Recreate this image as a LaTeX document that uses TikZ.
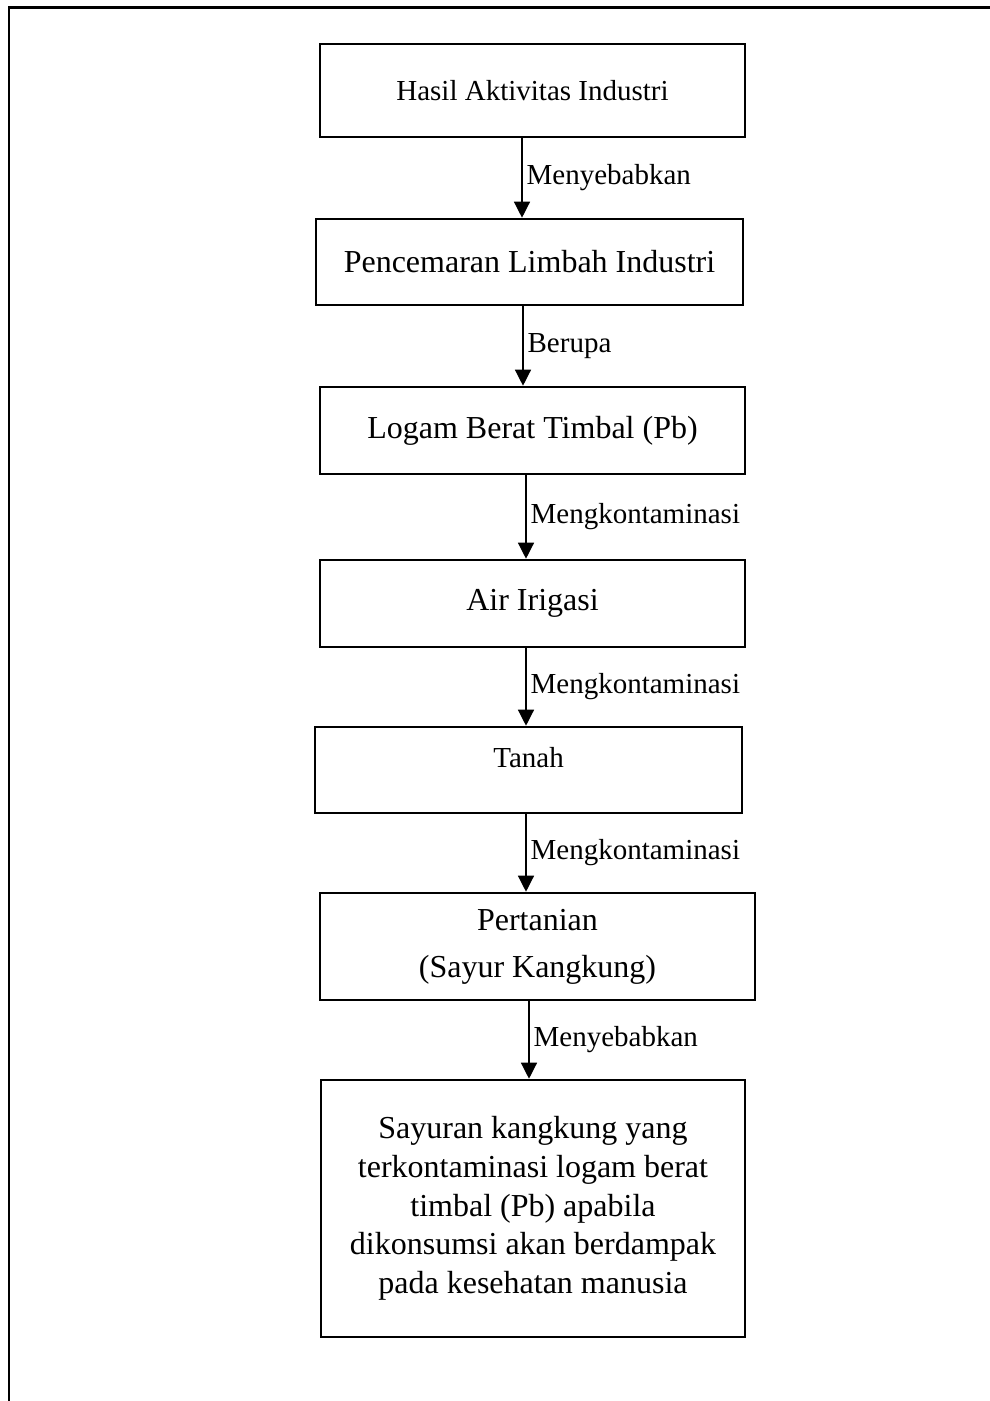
\documentclass[tikz,border=0pt]{standalone}
\usepackage{fontspec}
\setmainfont{Liberation Serif}
\usetikzlibrary{arrows.meta}

\begin{document}
\begin{tikzpicture}[x=1pt, y=-1pt,
  box/.style={draw, line width=2.6pt, inner sep=0pt, align=center,
    font=\fontsize{32}{38.75}\selectfont},
  small/.style={font=\fontsize{29}{35}\selectfont},
  flow/.style={line width=1.3pt, -{Triangle[width=16pt,length=16pt]}},
  verb/.style={right, inner sep=4pt, font=\fontsize{29}{35}\selectfont}]
  \useasboundingbox (0,0) rectangle (990,1401);
  % Frame
  \draw[line width=2.6pt] (990,7.5) -- (9,7.5) -- (9,1401);

  % Boxes
  \node[box, small, minimum width=425pt, minimum height=93pt] (hasil) at (532.5,90.5) {Hasil Aktivitas Industri};
  \node[box, minimum width=427pt, minimum height=86pt] (limbah) at (529.5,262) {Pencemaran Limbah Industri};
  \node[box, minimum width=425pt, minimum height=87pt] (timbal) at (532.5,430.5) {Logam Berat Timbal (Pb)};
  \node[box, minimum width=425pt, minimum height=87pt] (irigasi) at (532.5,603.5) {Air Irigasi};
  \node[box, small, minimum width=427pt, minimum height=86pt, text height=20pt, text depth=25pt] (tanah) at (528.5,770) {Tanah};
  \node[box, font=\fontsize{32}{47}\selectfont, minimum width=435pt, minimum height=107pt] (pertanian) at (537.5,946.5) {Pertanian\\(Sayur Kangkung)};
  \node[box, minimum width=424pt, minimum height=257pt] (dampak) at (533,1208.5)
    {Sayuran kangkung yang\\terkontaminasi logam berat\\timbal (Pb) apabila\\dikonsumsi akan berdampak\\pada kesehatan manusia};

  % Arrows
  \draw[flow] ([xshift=-10.5pt]hasil.south) -- ([xshift=-10.5pt]hasil.south |- limbah.north) node[verb, midway] {Menyebabkan};
  \draw[flow] ([xshift=-6.5pt]limbah.south) -- ([xshift=-6.5pt]limbah.south |- timbal.north) node[verb, midway] {Berupa};
  \draw[flow] ([xshift=-6.5pt]timbal.south) -- ([xshift=-6.5pt]timbal.south |- irigasi.north) node[verb, midway] {Mengkontaminasi};
  \draw[flow] ([xshift=-6.5pt]irigasi.south) -- ([xshift=-6.5pt]irigasi.south |- tanah.north) node[verb, midway] {Mengkontaminasi};
  \draw[flow] ([xshift=-2.5pt]tanah.south) -- ([xshift=-2.5pt]tanah.south |- pertanian.north) node[verb, midway] {Mengkontaminasi};
  \draw[flow] ([xshift=-8.5pt]pertanian.south) -- ([xshift=-8.5pt]pertanian.south |- dampak.north) node[verb, midway] {Menyebabkan};
\end{tikzpicture}
\end{document}
